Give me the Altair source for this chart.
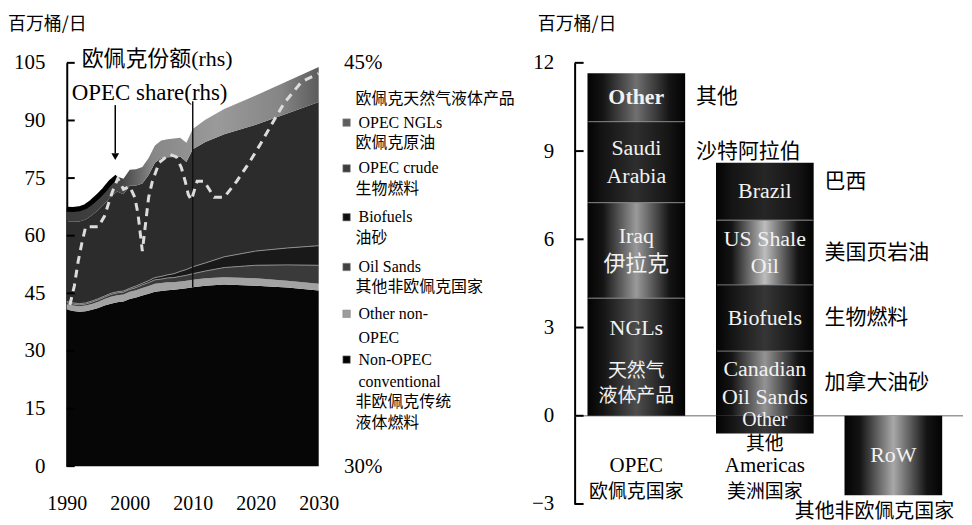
import altair as alt
import pandas as pd

FONT = "'Liberation Serif', 'Noto Sans CJK SC', serif"
ZH = "'Noto Sans CJK SC', sans-serif"

# ---------------- Left panel data: world liquids supply, mb/d ----------------
years = [1990, 1991, 1992, 1993, 1994, 1995, 1996, 1997, 1998, 1999, 2000,
         2001, 2002, 2003, 2004, 2005, 2006, 2007, 2008, 2009, 2010,
         2012, 2015, 2020, 2025, 2030]
non_opec_conventional = [40.8, 40.4, 40.2, 40.3, 40.7, 41.2, 41.8, 42.3, 42.7, 42.9, 43.5,
                         43.9, 44.4, 44.9, 45.4, 45.6, 45.8, 45.9, 46.1, 46.3, 46.6,
                         47.0, 47.3, 47.0, 46.5, 45.7]
other_non_opec = [1.4, 1.4, 1.4, 1.5, 1.5, 1.6, 1.7, 1.8, 1.8, 1.8, 1.9,
                  1.9, 2.0, 2.0, 2.1, 2.1, 2.1, 2.0, 2.0, 2.0, 1.9,
                  1.9, 1.9, 1.9, 1.8, 1.8]
oil_sands = [0.4, 0.4, 0.4, 0.4, 0.5, 0.5, 0.5, 0.6, 0.6, 0.6, 0.6,
             0.7, 0.8, 0.9, 1.0, 1.0, 1.1, 1.2, 1.3, 1.4, 1.6,
             1.9, 2.5, 3.4, 4.1, 4.8]
biofuels = [0.3, 0.3, 0.3, 0.3, 0.3, 0.3, 0.3, 0.3, 0.3, 0.3, 0.3,
            0.4, 0.4, 0.5, 0.6, 0.7, 0.8, 1.0, 1.3, 1.5, 1.8,
            2.1, 2.8, 3.7, 4.4, 5.1]
opec_crude = [20.8, 21.1, 21.4, 21.7, 22.3, 23.1, 24.0, 25.2, 26.1, 25.2, 26.8,
              26.2, 26.0, 27.5, 29.9, 30.8, 30.6, 30.4, 29.9, 28.0, 30.6,
              31.5, 31.9, 32.9, 35.0, 37.4]
opec_ngls = [3.2, 3.2, 3.3, 3.4, 3.5, 3.6, 3.7, 3.8, 3.9, 4.0, 4.1,
             4.2, 4.3, 4.4, 4.5, 4.6, 4.7, 4.8, 4.9, 5.0, 5.3,
             5.8, 6.6, 7.6, 8.4, 9.1]

share_years = [1990.5, 1991.2, 1991.8, 1992.4, 1993.0, 1995.0, 1996.0, 1996.8, 1997.4, 1998.1,
               1999.0, 2000.0, 2000.8, 2001.3, 2002.0, 2003.0, 2003.6, 2004.7, 2006.3, 2007.4,
               2008.2, 2008.8, 2009.3, 2009.8, 2010.7, 2011.8, 2013.4, 2015.0, 2017.0, 2019.0,
               2020.8, 2022.5, 2024.5, 2027.3, 2030.0]
opec_share = [36.0, 36.7, 37.6, 38.3, 38.9, 38.9, 39.3, 39.9, 40.3, 40.7,
              40.3, 40.4, 40.0, 39.4, 38.0, 40.0, 40.6, 41.3, 41.6, 41.5,
              41.1, 40.6, 40.1, 39.9, 40.6, 40.6, 40.0, 40.0, 40.6, 41.3,
              42.0, 42.7, 43.5, 44.3, 44.6]

left_ticks = [0, 15, 30, 45, 60, 75, 90, 105]
year_ticks = [1990, 2000, 2010, 2020, 2030]

# ---------------- Right panel data: change in supply, mb/d ----------------
categories = ["OPEC", "Americas", "RoW"]
bar_category = ["OPEC", "OPEC", "OPEC", "OPEC",
                "Americas", "Americas", "Americas", "Americas", "Americas", "RoW"]
bar_value = [4.0, 3.25, 2.75, 1.65, -0.6, 2.2, 2.25, 2.2, 1.95, -2.7]
bar_label_in = ["NGLs", "Iraq\n伊拉克", "Saudi\nArabia", "Other",
                "Other", "Canadian\nOil Sands", "Biofuels", "US Shale\nOil", "Brazil", "RoW"]
bar_label_sub = ["天然气\n液体产品", "", "", "", "", "", "", "", "", ""]
bar_label_zh = ["", "", "沙特阿拉伯", "其他", "", "加拿大油砂", "生物燃料", "美国页岩油", "巴西", ""]
category_en = ["OPEC", "Americas", ""]
category_zh = ["欧佩克国家", "美洲国家", "其他非欧佩克国家"]
right_ticks = [-3, 0, 3, 6, 9, 12]

# ---------------- styles ----------------
def hgrad(stops):
    return alt.LinearGradient(gradient="linear", x1=0, x2=1, y1=0, y2=0,
                              stops=[alt.GradientStop(offset=o, color=c) for o, c in stops])

area_styles = [
    "#060606",   # non-OPEC conventional
    "#a2a2a2",   # other non-OPEC
    "#3a3a3a",   # oil sands
    "#191919",   # biofuels
    "#2c2c2c",   # OPEC crude
    hgrad([(0, "#3a3a3a"), (0.22, "#454545"), (0.34, "#878787"),
           (0.6, "#9a9a9a"), (0.85, "#858585"), (1, "#5c5c5c")]),  # OPEC NGLs
]
bar_centers = ["#4e4e4e", "#9a9a9a", "#2e2e2e", "#707070", "#3a3a3a",
               "#949494", "#363636", "#bdbdbd", "#262626", "#a8a8a8"]
BOLD_IDS = [3]
RAISED_ZH_IDS = [2, 8]

one = pd.DataFrame({"k": [0]})


def is_zh(s):
    return all(ord(ch) > 0x2e80 or ch in "/" for ch in s)


def txt(s, x, y, size, color="black", align="left", baseline="middle", weight="normal"):
    return alt.Chart(one).mark_text(text=s, align=align, baseline=baseline,
                                    font=ZH if is_zh(s) else FONT,
                                    fontSize=size, color=color, fontWeight=weight).encode(
        x=alt.value(x), y=alt.value(y))


# ---------------- Left panel ----------------
series = [non_opec_conventional, other_non_opec, oil_sands, biofuels, opec_crude, opec_ngls]
df = pd.DataFrame({"year": years})
cum = [0.0] * len(years)
df["b0"] = cum
for i, vals in enumerate(series):
    cum = [round(c + v, 3) for c, v in zip(cum, vals)]
    df[f"b{i+1}"] = cum

xs = alt.Scale(domain=[1990, 2030], nice=False, zero=False)
ys = alt.Scale(domain=[0, 105], nice=False)

x_axis = alt.Axis(values=year_ticks, format="d", labelFont=FONT, labelFontSize=20,
                  labelColor="black", domain=False, ticks=False, tickSize=0,
                  labelPadding=28, grid=False, title=None, labelFlush=False)
y_axis = alt.Axis(values=left_ticks, labelFont=FONT, labelFontSize=21, labelColor="black",
                  domain=True, domainColor="black", domainWidth=2, ticks=False, tickSize=0,
                  labelPadding=22, grid=False, title=None, labelFlush=False)

layers = []
for i in range(6):
    layers.append(
        alt.Chart(df).mark_area(color=area_styles[i]).encode(
            x=alt.X("year:Q", scale=xs, axis=x_axis if i == 0 else None),
            y=alt.Y(f"b{i+1}:Q", scale=ys, axis=y_axis if i == 0 else None),
            y2=f"b{i}:Q",
        )
    )
# light edges between thin non-OPEC bands
for i in (2, 3):
    layers.append(
        alt.Chart(df).mark_line(color="#8c8c8c", strokeWidth=1).encode(
            x=alt.X("year:Q", scale=xs, axis=None),
            y=alt.Y(f"b{i+1}:Q", scale=ys, axis=None)))
# thick black top edge of the historical part
layers.append(
    alt.Chart(df[df["year"] <= 1998]).mark_line(color="black", strokeWidth=5).encode(
        x=alt.X("year:Q", scale=xs, axis=None),
        y=alt.Y("b6:Q", scale=ys, axis=None)))

# 2010 divider
divider = pd.DataFrame({"x": [2010], "y1": [46.5], "y2": [95.0]})
layers.append(alt.Chart(divider).mark_rule(color="#111111", strokeWidth=1.5).encode(
    x=alt.X("x:Q", scale=xs, axis=None), y=alt.Y("y1:Q", scale=ys, axis=None), y2="y2:Q"))

# inward ticks
layers.append(alt.Chart(pd.DataFrame({"v": left_ticks})).mark_rule(color="black", strokeWidth=2).encode(
    y=alt.Y("v:Q", scale=ys, axis=None), x=alt.value(0), x2=alt.value(8)))

# arrow
arrow = pd.DataFrame({"x": [1997.7], "y1": [94.0], "y2": [81.5], "yh": [80.6]})
layers.append(alt.Chart(arrow).mark_rule(color="black", strokeWidth=1.5).encode(
    x=alt.X("x:Q", scale=xs, axis=None), y=alt.Y("y1:Q", scale=ys, axis=None), y2="y2:Q"))
layers.append(alt.Chart(arrow).mark_point(shape="triangle-down", filled=True, size=60,
                                          color="black", opacity=1).encode(
    x=alt.X("x:Q", scale=xs, axis=None), y=alt.Y("yh:Q", scale=ys, axis=None)))

# annotations and title
layers.append(txt("百万桶/日", -59, -47, 18, baseline="top"))
layers.append(txt("欧佩克份额(rhs)", 15, -4, 22))
layers.append(txt("OPEC share(rhs)", 5, 30, 23))

# legend (bilingual, as in the original)
legend_rows = [
    ("欧佩克天然气液体产品", 36, None),
    ("OPEC NGLs", 60, "#5e5e5e"),
    ("欧佩克原油", 81, None),
    ("OPEC crude", 106, "#3e3e3e"),
    ("生物燃料", 127, None),
    ("Biofuels", 155, "#111111"),
    ("油砂", 176, None),
    ("Oil Sands", 205, "#404040"),
    ("其他非欧佩克国家", 225, None),
    ("Other non-", 252, "#9c9c9c"),
    ("OPEC", 276, None),
    ("Non-OPEC", 298, "#000000"),
    ("conventional", 321, None),
    ("非欧佩克传统", 341, None),
    ("液体燃料", 362, None),
]
for label, yy, sq in legend_rows:
    layers.append(txt(label, 290 if is_zh(label) else 293, yy, 16))
    if sq is not None:
        layers.append(alt.Chart(one).mark_square(size=56, color=sq, opacity=1,
                                                 stroke="#888888", strokeWidth=0.6).encode(
            x=alt.value(281), y=alt.value(yy)))

inner_left = alt.layer(*layers).resolve_axis(x="independent", y="independent")

share_df = pd.DataFrame({"year": share_years, "share": opec_share})
share_line = alt.Chart(share_df).mark_line(color="#dcdcdc", strokeWidth=3,
                                           strokeDash=[8, 6]).encode(
    x=alt.X("year:Q", scale=xs, axis=None),
    y=alt.Y("share:Q", scale=alt.Scale(domain=[30, 45], nice=False, zero=False),
            axis=alt.Axis(orient="right", values=[30, 45], labelExpr="datum.value + '%'",
                          domain=False, ticks=False, tickSize=0, labelPadding=25, grid=False,
                          title=None, labelFont=FONT, labelFontSize=21, labelColor="black",
                          labelFlush=False)))

left = alt.layer(inner_left, share_line).resolve_scale(y="independent").resolve_axis(
    x="independent", y="independent").properties(width=253, height=405)

# ---------------- Right panel ----------------
pos = {c: 0.0 for c in categories}
neg = {c: 0.0 for c in categories}
rows = []
for i, (c, v) in enumerate(zip(bar_category, bar_value)):
    if v >= 0:
        lo, hi = pos[c], pos[c] + v
        pos[c] = hi
    else:
        hi, lo = neg[c], neg[c] + v
        neg[c] = lo
    lab = bar_label_in[i]
    if i in BOLD_IDS:
        kind = "bold"
    elif v < 0 and c == "Americas":
        kind = "low"
    elif bar_label_sub[i]:
        kind = "head"
    elif "\n" in lab:
        kind = "two"
    else:
        kind = "one"
    sub_lines = bar_label_sub[i].split("\n") if bar_label_sub[i] else ["", ""]
    rows.append({"id": i, "cat": c, "lo": round(lo, 3), "hi": round(hi, 3),
                 "mid": round((lo + hi) / 2, 3), "lab": lab, "kind": kind,
                 "sub1": sub_lines[0], "sub2": sub_lines[1], "zh": bar_label_zh[i],
                 "raised": i in RAISED_ZH_IDS})
bars = pd.DataFrame(rows)

xband = alt.Scale(domain=categories, paddingInner=0.24, paddingOuter=0.1)
ry = alt.Scale(domain=[-3, 12], nice=False, zero=False)
ry_axis = alt.Axis(values=right_ticks, labelFont=FONT, labelFontSize=21, labelColor="black",
                   domain=True, domainColor="black", domainWidth=2, ticks=False, tickSize=0,
                   labelPadding=21, grid=False, title=None, labelFlush=False)
XC = alt.X("cat:N", scale=xband, sort=categories, axis=None)
YM = alt.Y("mid:Q", scale=ry, axis=None)

rl = []
rl.append(alt.Chart(one).mark_rule(color="#9a9a9a", strokeWidth=1.5).encode(
    y=alt.Y("k:Q", scale=ry, axis=ry_axis), x=alt.value(0), x2=alt.value(390)))
for i in range(len(bar_value)):
    rl.append(alt.Chart(bars).transform_filter(alt.datum.id == i).mark_bar(
        color=hgrad([(0, "#030303"), (0.16, "#141414"), (0.5, bar_centers[i]),
                     (0.84, "#141414"), (1, "#030303")])).encode(
        x=XC, y=alt.Y("hi:Q", scale=ry, axis=None), y2="lo:Q"))
# separators between stacked segments
rl.append(alt.Chart(bars).transform_filter(alt.datum.lo > 0).mark_tick(
    color="#8a8a8a", thickness=1.2, size=96).encode(
    x=XC, y=alt.Y("lo:Q", scale=ry, axis=None)))
# inward ticks
rl.append(alt.Chart(pd.DataFrame({"v": right_ticks})).mark_rule(color="black", strokeWidth=2).encode(
    y=alt.Y("v:Q", scale=ry, axis=None), x=alt.value(0), x2=alt.value(9)))

# labels inside bars
W = "#f2f2f2"
text_styles = {
    "bold": dict(font=FONT, fontSize=22, fontWeight="bold", color=W),
    "low": dict(font=FONT, fontSize=20, color=W, dy=-5),
    "head": dict(font=FONT, fontSize=22, color=W, dy=-29),
    "two": dict(font=FONT, fontSize=22, color=W, lineBreak="\n", lineHeight=28, dy=-14),
    "one": dict(font=FONT, fontSize=22, color=W),
}
for kind, style in text_styles.items():
    rl.append(alt.Chart(bars).transform_filter(alt.datum.kind == kind).mark_text(**style).encode(
        x=XC, y=YM, text="lab:N"))
rl.append(alt.Chart(bars).transform_filter(alt.datum.sub1 != "").mark_text(
    font=ZH, fontSize=19, color=W, dy=14).encode(x=XC, y=YM, text="sub1:N"))
rl.append(alt.Chart(bars).transform_filter(alt.datum.sub2 != "").mark_text(
    font=ZH, fontSize=19, color=W, dy=39).encode(x=XC, y=YM, text="sub2:N"))

# Chinese labels to the right of bars
rl.append(alt.Chart(bars).transform_filter(
    (alt.datum.zh != "") & (alt.datum.raised == False)).mark_text(
    font=ZH, fontSize=21, color="black", align="left", dx=60).encode(x=XC, y=YM, text="zh:N"))
rl.append(alt.Chart(bars).transform_filter(alt.datum.raised == True).mark_text(
    font=ZH, fontSize=21, color="black", align="left", dx=60, dy=-10).encode(
    x=XC, y=YM, text="zh:N"))
# "其他" under the Americas bar
rl.append(alt.Chart(pd.DataFrame({"cat": ["Americas"], "t": ["其他"]})).mark_text(
    font=ZH, fontSize=19, color="black").encode(x=XC, y=alt.value(383), text="t:N"))
# category labels
cats = pd.DataFrame({"cat": categories, "en": category_en, "zh": category_zh})
rl.append(alt.Chart(cats).transform_filter(alt.datum.en != "").mark_text(
    font=FONT, fontSize=21, color="black").encode(x=XC, y=alt.value(405), text="en:N"))
rl.append(alt.Chart(cats).transform_filter(alt.datum.en != "").mark_text(
    font=ZH, fontSize=19, color="black").encode(x=XC, y=alt.value(431), text="zh:N"))
rl.append(alt.Chart(cats).transform_filter(alt.datum.en == "").mark_text(
    font=ZH, fontSize=20, color="black", dx=-19).encode(x=XC, y=alt.value(451), text="zh:N"))
rl.append(txt("百万桶/日", -37, -47, 18, baseline="top"))

right = alt.layer(*rl).resolve_axis(x="independent", y="independent").properties(
    width=382, height=443)

chart = alt.hconcat(left, right, spacing=257, bounds="flush").properties(
    padding={"left": 0, "top": 7, "right": 0, "bottom": 0}
).configure_view(stroke=None)

chart.save("out.html", embed_options={"renderer": "svg", "actions": False})
